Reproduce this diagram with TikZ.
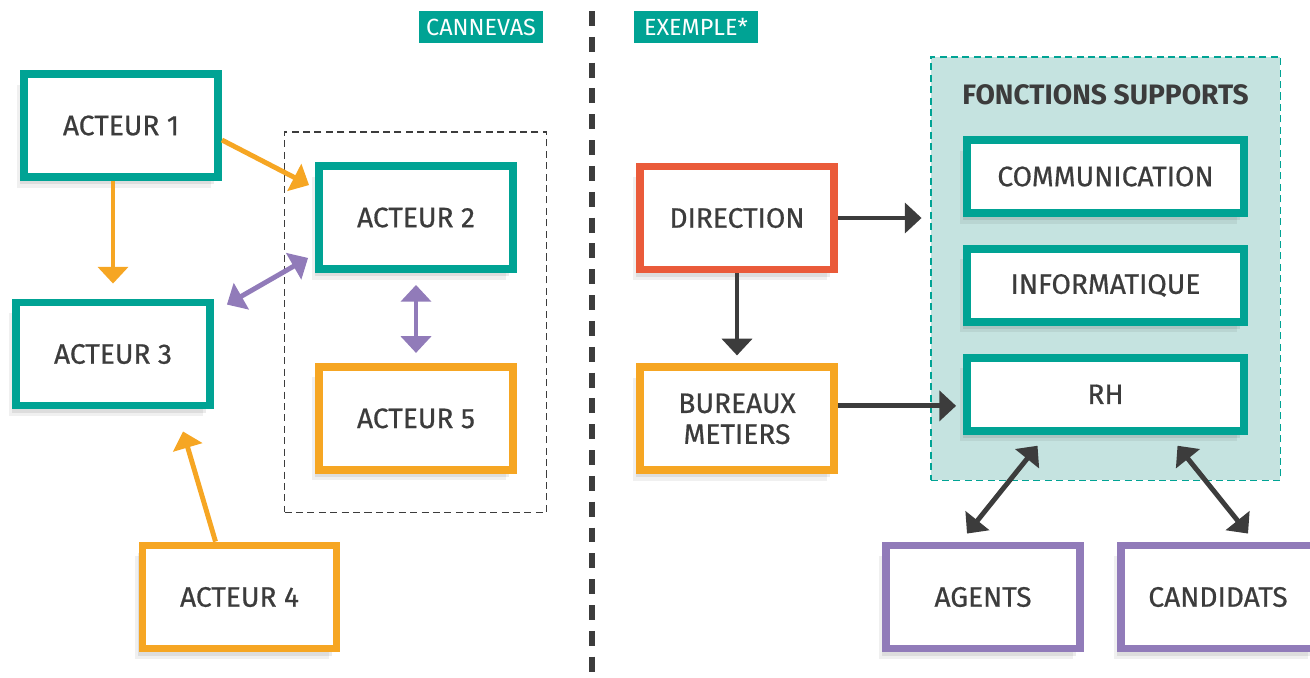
\documentclass[tikz,border=0pt]{standalone}
\usepackage{fontspec}
\setmainfont{Fira Sans}
\newfontfamily\boxfont{Fira Sans}[FakeBold=0.6]
\usepackage{xcolor}
\usetikzlibrary{arrows.meta,positioning,calc,shadows}
\definecolor{teal0}{HTML}{00A394}
\definecolor{orng}{HTML}{F6A623}
\definecolor{rust}{HTML}{EA5B3A}
\definecolor{purp}{HTML}{917BB9}
\definecolor{ink}{HTML}{3C3C3C}
\definecolor{mist}{HTML}{C5E3E0}
\tikzset{
  box/.style={draw, fill=white, line width=4.5pt, align=center, inner sep=0pt, minimum width=3.88cm, minimum height=2.06cm,
    font=\boxfont\fontsize{16}{17.6}\selectfont, text=ink,
    drop shadow={opacity=.10, fill=black, shadow xshift=-1pt, shadow yshift=-2pt},
    drop shadow={opacity=.08, fill=black, shadow xshift=-2.5pt, shadow yshift=-4pt},
    drop shadow={opacity=.06, fill=black, shadow xshift=-4pt, shadow yshift=-6pt}},
  widebox/.style={box, minimum width=5.54cm, minimum height=1.46cm},
  tag/.style={fill=teal0, text=white, inner sep=0pt, minimum width=2.48cm, minimum height=0.64cm, font=\fontsize{13.3}{15}\selectfont},
  grp/.style={draw=ink, dashed, line width=1.1pt, dash pattern=on 4pt off 2.5pt, inner sep=0pt},
  zone/.style={draw=teal0, fill=mist, line width=1.1pt, dash pattern=on 4pt off 2.5pt, inner sep=0pt},
  oline/.style={-{Triangle[length=9.5pt, width=17pt]}, line width=2.8pt, draw=orng},
  pline/.style={{Triangle[length=9.5pt, width=17pt]}-{Triangle[length=9.5pt, width=17pt]}, line width=2.8pt, draw=purp},
  dline/.style={-{Triangle[length=9.5pt, width=17pt]}, line width=2.8pt, draw=ink},
  ddline/.style={{Triangle[length=9.5pt, width=17pt]}-{Triangle[length=9.5pt, width=17pt]}, line width=2.8pt, draw=ink},
  sepline/.style={draw=ink, line width=3pt, dash pattern=on 8.5pt off 6.2pt}
}

\begin{document}
\begin{tikzpicture}[x=0.02cm, y=-0.02cm]
    \useasboundingbox (0,0) rectangle (1310,677);
    % separator and headings
    \coordinate (sept) at (592,11);
    \coordinate (sepb) at (592,677);
    \draw[sepline] (sept) -- (sepb);
    \node[tag] (cnv) at (481,27) {CANNEVAS};
    \node[tag] (exm) at (696,27) {EXEMPLE*};

    % canvas side
    \node[grp, minimum width=5.24cm, minimum height=7.62cm] (grp) at (415.5,322) {};
    \node[box, draw=teal0] (a1) at (121,125.5) {ACTEUR 1};
    \node[box, draw=teal0] (a2) at (416,217.5) {ACTEUR 2};
    \node[box, draw=orng, below=1.8cm of a2] (a5) {ACTEUR 5};
    \node[box, draw=teal0] (a3) at (113,354) {ACTEUR 3};
    \node[box, draw=orng] (a4) at (239.5,597) {ACTEUR 4};

    % example side
    \node[box, draw=rust] (dir) at (737,218) {DIRECTION};
    \node[box, draw=orng, below=1.8cm of dir] (bur) {BUREAUX\\METIERS};
    \node[zone, minimum width=7.0cm, minimum height=8.48cm] (fs) at (1105.5,268.5) {};
    \node[font=\fontsize{16}{17.6}\selectfont\bfseries, text=ink] (fst) at (1105.5,95) {FONCTIONS SUPPORTS};
    \node[widebox, draw=teal0] (com) at (1105.5,176.5) {COMMUNICATION};
    \node[widebox, draw=teal0, below=0.56cm of com] (inf) {INFORMATIQUE};
    \node[widebox, draw=teal0, below=0.56cm of inf] (rh) {RH};
    \node[box, draw=purp] (ag) at (983,597) {AGENTS};
    \node[box, draw=purp] (cand) at (1218,597) {CANDIDATS};

    % connectors
    \draw[oline] (a1.south -| a3.north) -- ($(a3.north)+(0,-15)$);
    \draw[oline] ($(a1.east)+(0,14.5)$) -- ($(a2.north west)+(-6,23)$);
    \draw[pline] ($(a3.north east)+(13,6)$) -- ($(a2.south west)+(-7,-15)$);
    \draw[pline] ($(a2.south)+(0,12)$) -- ($(a5.north)+(0,-10)$);
    \draw[oline] ($(a4.north)+(-24,0)$) -- ($(a3.south)+(70,22)$);
    \draw[dline] (dir.east) -- ($(dir.east -| fs.west)+(-8,0)$);
    \draw[dline] (dir.south) -- ($(bur.north)+(0,-8)$);
    \draw[dline] ($(bur.east)+(0,-13)$) -- ($(bur.east -| rh.west)+(-7,-13)$);
    \draw[ddline] ($(rh.south)+(-68,11)$) -- ($(ag.north)+(-16,-8)$);
    \draw[ddline] ($(rh.south)+(72,11)$) -- ($(cand.north)+(30,-8)$);
\end{tikzpicture}
\end{document}
